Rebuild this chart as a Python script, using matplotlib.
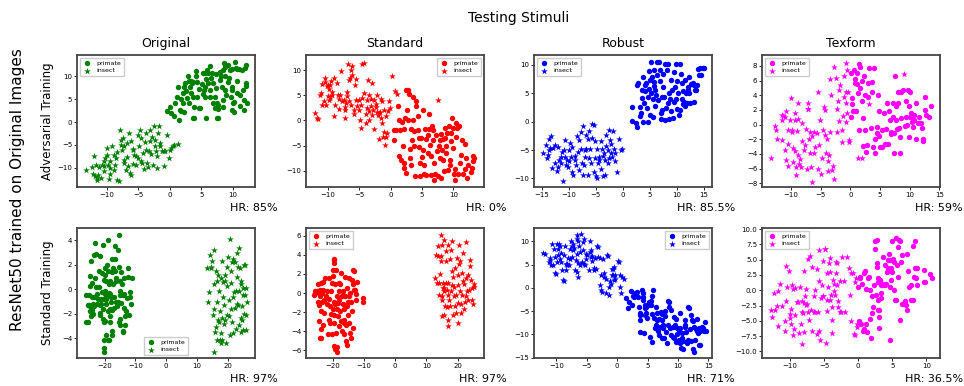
import matplotlib
matplotlib.use("Agg")
import matplotlib.pyplot as plt

# ---------------- data ----------------
columns = ["Original", "Standard", "Robust", "Texform"]
rows = ["Adversarial Training", "Standard Training"]
colors = ["green", "red", "blue", "magenta"]
hr_labels = [["HR: 85%", "HR: 0%", "HR: 85.5%", "HR: 59%"],
             ["HR: 97%", "HR: 97%", "HR: 71%", "HR: 36.5%"]]

# Adversarial training / Original
p1_primate = [(-0.5,2.5),(0.0,3.4),(0.7,1.3),(0.9,4.3),(1.1,5.6),(1.3,7.8),(1.6,2.7),(1.8,5.0),(2.1,4.1),(2.3,7.6),(1.8,2.5),(2.4,8.5),(2.1,6.3),(2.6,6.8),(2.9,10.0),(3.1,8.9),(3.2,7.6),(3.3,6.3),(3.4,9.1),(3.5,8.5),(3.7,5.6),(3.7,8.7),(3.9,3.4),(4.1,10.0),(4.1,11.2),(4.3,8.7),(4.3,5.6),(4.6,7.2),(4.8,3.2),(5.1,8.4),(5.3,10.7),(5.3,6.2),(5.4,7.1),(5.5,7.8),(5.6,10.8),(5.6,5.6),(5.8,9.4),(5.9,11.4),(6.0,10.7),(6.1,8.5),(6.3,7.1),(6.4,12.3),(6.4,5.6),(6.5,9.6),(6.7,10.7),(6.8,8.5),(6.9,4.1),(7.1,5.6),(7.2,3.1),(7.3,7.4),(7.4,10.5),(7.5,4.1),(7.6,2.8),(7.6,0.9),(7.7,3.8),(7.9,9.2),(8.0,11.0),(8.1,10.0),(8.3,7.6),(8.4,4.9),(8.5,3.4),(8.6,12.9),(8.7,7.1),(8.8,10.1),(8.8,12.1),(8.9,6.0),(9.2,12.5),(9.3,8.7),(9.4,9.6),(9.6,11.4),(9.7,5.6),(9.8,7.1),(9.8,2.7),(9.9,7.8),(10.0,4.1),(10.1,2.3),(10.2,4.5),(10.4,13.2),(10.5,11.8),(10.6,8.9),(10.7,6.3),(10.9,11.6),(11.1,3.6),(11.2,6.0),(11.4,11.4),(11.6,7.1),(11.7,4.9),(11.8,2.7),(12.0,7.9),(12.1,12.5),(12.1,8.5),(12.2,4.3),(3.6,0.9),(3.8,0.8),(5.8,0.9),(4.6,3.2),(2.2,2.3),(0.2,2.0),(1.4,0.5),(7.5,1.0),(3.0,4.3),(2.7,5.2),(8.5,11.4),(9.9,11.7),(10.6,11.6),(11.9,11.8)]
p1_insect = [(-13.2,-10.4),(-12.4,-9.9),(-12.1,-11.3),(-12.0,-7.5),(-11.9,-11.9),(-11.7,-9.3),(-11.6,-12.2),(-11.5,-12.6),(-11.4,-11.5),(-11.2,-9.8),(-10.9,-12.2),(-10.7,-9.3),(-10.5,-8.6),(-10.4,-9.7),(-10.2,-7.9),(-10.0,-5.7),(-9.9,-7.3),(-9.8,-9.3),(-9.6,-12.4),(-9.5,-10.0),(-9.4,-8.6),(-9.1,-5.3),(-8.9,-7.1),(-8.7,-9.3),(-8.6,-7.9),(-8.4,-6.6),(-8.3,-12.7),(-8.1,-12.9),(-7.9,-1.7),(-7.8,-3.9),(-7.7,-4.9),(-7.5,-6.2),(-7.4,-3.5),(-7.3,-8.2),(-7.2,-8.9),(-7.0,-10.4),(-6.8,-4.6),(-6.7,-7.6),(-6.6,-9.5),(-6.5,-2.4),(-6.3,-11.1),(-6.2,-4.2),(-6.1,-11.5),(-5.9,-6.0),(-5.8,-5.9),(-5.7,-7.3),(-5.4,-9.3),(-5.3,-7.5),(-5.1,-2.8),(-4.9,-5.3),(-4.7,-1.7),(-4.6,-3.5),(-4.5,-8.6),(-4.4,-8.9),(-4.2,-6.8),(-4.1,-10.2),(-3.9,-4.4),(-3.8,-2.4),(-3.7,-6.0),(-3.6,-8.9),(-3.5,-9.8),(-3.3,-6.4),(-3.2,-4.2),(-3.1,-1.7),(-3.0,-6.9),(-2.8,-3.3),(-2.6,-9.3),(-2.5,-0.8),(-2.4,-5.3),(-2.3,-3.9),(-2.2,-6.4),(-2.1,-7.5),(-2.0,-10.0),(-1.9,-2.3),(-1.7,-0.9),(-1.6,-5.3),(-1.5,-4.6),(-1.2,-6.4),(-0.9,-6.4),(-0.7,-6.4),(-0.4,-2.8),(-0.2,-7.9),(0.0,-6.0),(0.2,-5.7),(0.5,-5.3),(0.7,-4.9),(1.3,-4.8),(-7.2,-5.2),(-5.9,-9.1),(-5.1,-7.9),(-8.8,-10.5),(-10.4,-10.8),(-9.5,-11.3),(-0.9,-9.7)]

# Adversarial training / Standard
p2_insect = [(-12.1,1.4),(-11.8,0.5),(-11.6,0.3),(-11.2,5.1),(-11.1,5.5),(-11.0,7.2),(-10.9,3.1),(-10.7,3.8),(-10.5,7.7),(-10.4,8.4),(-10.3,3.1),(-10.1,6.8),(-10.0,7.0),(-10.0,4.9),(-9.9,4.1),(-9.8,6.2),(-9.7,7.0),(-9.6,4.4),(-9.5,7.9),(-9.4,5.1),(-9.3,5.7),(-9.1,0.8),(-9.0,8.5),(-8.8,3.1),(-8.6,7.4),(-8.4,5.1),(-8.3,2.2),(-8.2,4.2),(-8.0,5.1),(-7.9,9.8),(-7.7,3.9),(-7.5,4.1),(-7.3,0.5),(-7.3,2.6),(-7.2,2.0),(-7.1,3.4),(-6.9,5.7),(-6.9,4.9),(-6.8,11.3),(-6.7,8.0),(-6.6,3.8),(-6.5,8.4),(-6.4,10.0),(-6.3,3.1),(-6.2,10.8),(-6.1,9.1),(-5.9,1.3),(-5.9,2.1),(-5.7,7.0),(-5.6,8.2),(-5.5,4.1),(-5.4,2.8),(-5.1,2.1),(-5.0,4.1),(-4.9,0.1),(-4.8,3.1),(-4.7,-1.5),(-4.6,11.3),(-4.5,4.4),(-4.3,11.4),(-4.2,5.5),(-4.0,1.3),(-3.9,-0.4),(-3.8,4.1),(-3.7,2.4),(-3.6,8.0),(-3.5,1.9),(-3.4,0.1),(-3.4,5.1),(-3.2,4.2),(-3.1,2.8),(-3.0,1.1),(-2.9,7.4),(-2.8,2.1),(-2.7,4.1),(-2.6,-1.7),(-2.4,3.3),(-2.3,2.6),(-2.2,5.1),(-2.1,1.6),(-2.0,1.1),(-1.9,1.4),(-1.8,-3.7),(-1.7,1.6),(-1.6,4.2),(-1.5,0.5),(-1.4,-0.4),(-1.3,3.8),(-1.2,-3.3),(-1.1,2.1),(-1.0,-2.2),(-0.9,-4.8),(-0.7,0.8),(-0.7,-3.2),(-0.5,-2.4),(-0.4,1.8),(-0.2,3.9),(-0.1,2.4),(0.2,8.8),(0.7,5.9),(1.0,5.3),(7.5,4.1)]
p2_primate = [(0.5,-1.8),(0.6,-3.8),(0.9,-1.8),(1.2,2.9),(1.3,0.1),(1.4,-7.0),(1.5,-1.8),(1.7,-7.8),(1.8,-0.2),(1.9,-5.1),(2.1,-9.4),(2.1,-8.4),(2.2,-1.7),(2.3,0.5),(2.4,6.1),(2.4,-10.4),(2.6,2.1),(2.8,6.1),(2.8,0.1),(3.0,5.3),(3.1,-5.7),(3.1,-7.4),(3.2,-1.7),(3.3,-8.8),(3.4,-3.8),(3.5,0.0),(3.6,4.6),(3.7,-2.0),(3.8,-5.1),(3.9,-11.1),(4.0,3.8),(4.1,2.8),(4.3,0.8),(4.4,-1.8),(4.5,-3.5),(4.6,-5.3),(4.7,-8.4),(4.7,-11.1),(4.9,-3.5),(5.0,-7.2),(5.1,2.0),(5.2,-5.9),(5.3,-8.9),(5.4,-10.7),(5.5,-1.7),(5.6,-3.7),(5.7,-10.9),(5.9,-6.4),(6.0,-2.8),(6.1,1.3),(6.2,-1.7),(6.3,-4.8),(6.4,-7.1),(6.5,-10.9),(6.6,-1.1),(6.7,-3.8),(6.8,-1.8),(6.9,-8.4),(7.0,-11.8),(7.1,-10.7),(7.2,-2.8),(7.4,-6.1),(7.6,-11.1),(7.7,-5.0),(7.8,-3.8),(7.9,-7.4),(8.0,-2.7),(8.1,-11.4),(8.2,-5.9),(8.3,-3.7),(8.4,-7.8),(8.5,-10.1),(8.6,-3.5),(8.7,-1.5),(8.8,-5.1),(8.9,-6.4),(9.0,-2.5),(9.1,-9.9),(9.3,-1.1),(9.4,-8.8),(9.5,-7.8),(9.6,-4.1),(9.7,-2.5),(9.8,0.5),(9.9,-5.5),(10.0,-1.5),(10.1,-10.7),(10.2,-11.8),(10.3,-9.7),(10.4,-0.4),(10.5,-3.3),(10.6,-1.5),(10.7,-10.7),(10.9,-1.1),(11.0,-8.4),(11.3,-6.8),(11.4,-3.8),(11.5,-10.7),(11.8,-9.7),(11.9,-4.6),(12.1,-7.4),(12.2,-11.4),(12.4,-8.8),(12.8,-10.3),(13.0,-9.4),(13.1,-7.0),(13.2,-8.1),(13.3,-7.4)]

# Adversarial training / Robust
p3_primate = [(1.7,0.1),(1.8,2.5),(2.5,-0.3),(2.7,-1.0),(2.7,6.5),(2.8,6.7),(3.1,2.6),(3.2,1.0),(3.3,1.5),(3.5,4.1),(3.6,5.6),(3.7,0.0),(3.8,7.9),(4.0,3.2),(4.1,6.4),(4.2,5.3),(4.3,6.7),(4.4,2.3),(4.6,4.4),(4.7,-0.1),(4.8,8.9),(4.9,5.8),(5.1,1.2),(5.1,7.3),(5.2,5.1),(5.3,10.5),(5.4,7.9),(5.6,0.8),(5.6,3.9),(5.7,7.0),(5.7,9.1),(5.8,6.3),(5.9,2.7),(6.0,5.6),(6.2,4.7),(6.3,10.4),(6.4,8.2),(6.5,3.8),(6.7,10.4),(6.8,9.1),(6.9,7.2),(7.0,1.5),(7.1,0.5),(7.2,4.4),(7.3,2.0),(7.4,6.1),(7.5,8.4),(7.7,4.4),(7.8,0.3),(7.9,10.2),(8.0,2.3),(8.1,9.1),(8.3,10.2),(8.4,3.2),(8.5,0.4),(8.6,5.0),(8.8,3.9),(8.9,7.3),(9.0,1.8),(9.1,5.6),(9.3,0.6),(9.4,8.8),(9.5,3.5),(9.6,6.1),(9.8,10.1),(9.9,3.9),(10.0,7.2),(10.1,2.2),(10.2,5.0),(10.4,1.2),(10.5,10.1),(10.6,2.0),(10.7,8.4),(10.9,3.9),(11.0,6.7),(11.1,3.1),(11.2,5.3),(11.4,3.5),(11.5,2.7),(11.6,7.3),(11.7,5.0),(11.9,3.2),(12.0,5.6),(12.1,6.1),(12.2,7.8),(12.3,5.0),(12.5,3.2),(12.7,6.6),(12.8,6.6),(13.0,6.7),(13.1,6.4),(13.2,3.5),(13.3,5.6),(13.6,5.6),(13.7,6.4),(14.0,9.2),(14.1,8.2),(14.2,9.4),(14.4,8.2),(14.8,9.4),(15.1,9.5)]
p3_insect = [(-14.8,-5.6),(-14.2,-4.1),(-14.0,-6.4),(-13.8,-5.8),(-13.7,-5.0),(-13.6,-3.1),(-13.4,-4.7),(-13.2,-2.6),(-13.0,-8.2),(-12.8,-4.7),(-12.6,-7.3),(-12.5,-4.1),(-12.2,-8.6),(-12.0,-7.9),(-11.9,-4.4),(-11.7,-6.7),(-11.5,-6.3),(-11.4,-7.3),(-11.2,-5.3),(-11.1,-10.4),(-10.9,-5.0),(-10.7,-6.3),(-10.6,-3.2),(-10.5,-7.6),(-10.3,-6.8),(-10.1,-8.0),(-10.0,-7.0),(-9.9,-5.0),(-9.7,-3.8),(-9.5,-6.3),(-9.4,-8.8),(-9.3,-4.4),(-9.1,-9.4),(-8.9,-6.1),(-8.8,-6.7),(-8.6,-7.6),(-8.5,-2.5),(-8.3,-5.3),(-8.1,-3.3),(-8.0,-8.5),(-7.8,-1.9),(-7.7,-4.9),(-7.5,-7.3),(-7.4,-0.8),(-7.3,-9.4),(-7.2,-7.6),(-7.0,-5.0),(-6.9,-6.3),(-6.8,-2.3),(-6.7,-4.9),(-6.5,-9.4),(-6.4,-3.1),(-6.3,-6.4),(-6.2,-1.6),(-6.0,-4.9),(-5.8,-7.2),(-5.7,-2.9),(-5.6,-0.4),(-5.4,-8.8),(-5.2,-6.4),(-5.1,-3.5),(-4.9,-9.5),(-4.8,-9.9),(-4.7,-4.9),(-4.6,-7.3),(-4.4,-6.3),(-4.3,-6.7),(-4.1,-3.5),(-4.0,-8.4),(-3.8,-4.9),(-3.7,-6.1),(-3.6,-9.5),(-3.5,-5.6),(-3.3,-6.7),(-3.2,-9.4),(-3.1,-2.3),(-3.0,-4.3),(-2.8,-7.3),(-2.7,-5.0),(-2.6,-1.5),(-2.5,-6.4),(-2.3,-3.2),(-2.2,-3.9),(-2.1,-5.6),(-2.0,-6.3),(-1.8,-1.6),(-1.7,-4.9),(-1.5,-7.0),(-1.4,-5.6),(-1.0,-8.8),(-0.7,-3.1),(-0.4,-5.0),(-0.2,-4.9),(-5.4,-0.6)]

# Adversarial training / Texform
p4_insect = [(-13.4,-4.6),(-12.7,-0.2),(-12.5,-0.7),(-12.3,-1.9),(-11.6,0.6),(-11.5,1.3),(-11.5,-2.1),(-11.4,1.2),(-11.1,1.0),(-11.0,-3.4),(-10.9,-4.8),(-10.8,1.8),(-10.6,-0.7),(-10.6,-5.7),(-10.5,-2.7),(-10.2,0.6),(-10.0,3.7),(-9.9,-1.0),(-9.8,-0.7),(-9.6,-5.1),(-9.6,-3.2),(-9.4,1.6),(-9.3,0.6),(-9.3,-3.6),(-9.2,-5.8),(-9.2,-6.9),(-9.0,-0.8),(-8.9,3.0),(-8.8,0.8),(-8.8,-4.2),(-8.6,-5.3),(-8.5,-4.7),(-8.3,-5.8),(-8.2,0.2),(-8.1,-2.2),(-7.9,-3.4),(-7.6,-2.8),(-7.5,-0.6),(-7.3,-6.0),(-7.2,2.1),(-7.1,2.9),(-7.1,2.2),(-6.9,-2.0),(-6.8,-1.0),(-6.8,-3.8),(-6.6,-5.8),(-6.5,-1.6),(-6.4,-7.8),(-6.2,-3.9),(-6.1,-1.0),(-5.9,-3.0),(-5.6,-1.1),(-5.5,-6.0),(-5.4,4.4),(-5.3,-2.8),(-5.1,0.6),(-4.9,-6.7),(-4.8,-4.5),(-4.7,-0.7),(-4.5,2.4),(-4.3,2.0),(-4.2,-1.4),(-4.1,-3.9),(-4.0,-1.9),(-3.8,-6.3),(-3.7,-5.0),(-3.6,-4.2),(-3.5,6.2),(-3.4,-1.0),(-3.2,4.1),(-3.1,-6.2),(-3.0,-5.7),(-2.8,-7.4),(-2.7,7.9),(-2.4,6.3),(-2.3,-1.0),(-2.3,2.2),(-2.1,3.2),(-2.0,4.7),(-1.9,0.5),(-1.7,5.4),(-1.5,-0.7),(-1.4,-2.3),(-1.2,1.2),(-1.1,6.7),(-1.0,3.8),(-0.8,4.4),(-0.8,2.9),(-0.7,8.4),(-0.7,0.4),(-0.6,1.6),(-0.5,7.4),(-0.4,4.5),(-0.3,-2.1),(-0.2,-2.3),(1.2,-4.6),(2.0,-4.6),(3.2,2.8),(9.0,6.9)]
p4_primate = [(0.1,7.1),(0.1,1.1),(0.2,3.6),(0.3,2.8),(0.4,1.8),(0.6,7.5),(0.7,6.2),(0.8,5.7),(1.0,1.8),(1.1,7.0),(1.1,5.5),(1.3,4.3),(1.4,-0.7),(1.5,8.3),(1.6,5.0),(1.7,7.9),(1.9,5.9),(1.9,3.2),(2.1,0.9),(2.2,-2.9),(2.3,6.6),(2.4,4.1),(2.5,-0.7),(2.6,-3.7),(2.8,-2.8),(2.9,5.7),(3.0,3.8),(3.1,7.7),(3.4,-0.5),(3.6,4.5),(3.7,5.8),(3.8,-3.1),(3.9,7.7),(4.1,-2.0),(4.2,-3.9),(4.4,-0.3),(4.5,-1.2),(4.7,4.1),(4.8,1.8),(4.9,-1.6),(5.0,-3.0),(5.3,-3.1),(5.4,-0.7),(5.7,1.6),(5.9,-2.6),(6.0,-0.6),(6.2,2.9),(6.3,-2.6),(6.5,1.8),(6.6,0.6),(6.8,-1.3),(6.9,-1.0),(7.1,1.1),(7.2,2.9),(7.3,-1.2),(7.4,-3.9),(7.5,6.6),(7.6,0.6),(7.7,2.5),(7.9,-0.6),(8.0,4.4),(8.1,3.0),(8.2,-0.4),(8.3,-1.7),(8.4,-3.9),(8.5,0.9),(8.6,4.5),(8.8,4.7),(9.2,-0.2),(9.3,1.1),(9.4,3.2),(9.6,0.0),(9.7,4.7),(9.8,2.5),(9.9,-1.7),(10.0,4.5),(10.1,1.1),(10.2,1.6),(10.3,0.3),(10.5,0.7),(10.6,-0.3),(10.7,0.6),(10.8,1.3),(11.0,2.9),(11.1,-2.0),(11.4,0.2),(11.6,1.1),(11.9,0.2),(12.0,-0.4),(12.3,-2.0),(12.3,-2.2),(12.5,3.8),(12.6,2.0),(12.7,1.3),(13.3,1.1),(13.6,2.6)]

# Standard training / Original
p5_primate = [(-26.0,-2.7),(-25.5,-2.7),(-26.0,-0.5),(-25.5,-1.3),(-25.2,-0.5),(-25.2,-1.3),(-24.9,-1.8),(-24.9,-1.4),(-24.7,0.3),(-24.7,1.1),(-24.5,2.3),(-24.5,-2.2),(-24.2,-1.7),(-24.1,-0.6),(-24.1,0.5),(-23.8,-1.2),(-23.8,-2.0),(-23.6,-0.6),(-23.4,-1.4),(-23.4,2.8),(-23.0,0.9),(-23.0,3.8),(-22.7,0.2),(-22.7,2.9),(-22.5,-1.2),(-22.5,-0.4),(-22.3,-0.8),(-22.0,0.2),(-22.0,1.5),(-21.6,-2.1),(-21.6,-1.3),(-21.4,2.7),(-21.4,-1.9),(-21.2,-1.2),(-21.2,-0.8),(-20.9,1.3),(-20.9,-0.2),(-20.7,3.6),(-20.5,-1.6),(-20.5,-2.4),(-20.3,-0.8),(-20.3,0.8),(-20.1,-2.7),(-20.0,-2.6),(-19.9,1.7),(-19.8,-0.1),(-19.8,1.2),(-19.8,-0.4),(-19.6,-0.8),(-19.5,-3.7),(-19.5,0.7),(-19.5,-1.2),(-19.2,2.0),(-19.2,-0.5),(-19.0,4.0),(-19.0,-1.8),(-18.8,1.5),(-18.7,0.4),(-18.7,-0.3),(-18.4,-1.6),(-18.4,-2.7),(-18.2,0.7),(-18.2,-2.2),(-18.2,-0.4),(-17.9,-0.6),(-17.9,-1.0),(-17.7,-1.7),(-17.7,2.5),(-17.5,-3.4),(-17.5,1.4),(-17.3,1.7),(-17.3,0.4),(-17.1,-0.6),(-17.1,-1.5),(-16.8,3.5),(-16.6,1.5),(-16.5,2.5),(-16.4,0.7),(-16.2,-1.0),(-16.2,0.9),(-16.0,-1.4),(-15.8,-1.0),(-15.8,3.2),(-15.4,4.4),(-15.4,-2.7),(-15.3,1.8),(-15.1,-0.1),(-15.1,-0.5),(-14.9,0.7),(-14.9,-2.4),(-14.7,1.4),(-14.7,-1.1),(-14.3,0.4),(-14.0,-0.5),(-14.0,-3.4),(-13.8,-0.4),(-13.6,0.9),(-13.3,-2.2),(-13.3,-2.9),(-12.9,-1.8),(-12.7,-0.7),(-12.5,1.7),(-12.5,1.0),(-12.2,-2.1),(-11.8,-0.2),(-11.6,-0.6),(-11.4,-1.2),(-11.1,0.9),(-20.3,-4.8),(-20.1,-5.1),(-20.1,-4.1),(-19.0,-4.1),(-18.6,-4.1),(-17.6,-3.7),(-14.0,-3.5),(-13.6,-1.5),(-14.9,-2.9)]
p5_insect = [(13.4,1.7),(13.6,-1.0),(13.9,-0.2),(14.2,2.8),(14.5,1.7),(14.7,1.8),(15.0,2.3),(15.3,-2.1),(15.5,3.2),(15.7,0.4),(15.7,-1.6),(15.9,-3.5),(16.1,1.5),(16.3,-3.1),(16.4,-1.0),(16.4,-4.1),(16.6,0.7),(16.8,1.2),(16.8,-2.5),(17.2,-2.7),(17.2,-0.1),(17.5,-1.8),(17.7,-3.6),(17.7,0.9),(18.0,-4.4),(18.2,2.3),(18.3,-2.3),(18.5,-0.6),(18.6,0.6),(18.8,-1.3),(18.8,-2.8),(19.0,1.2),(19.2,0.7),(19.3,-2.5),(19.5,-4.4),(19.7,-2.1),(19.9,0.3),(19.9,1.8),(20.1,2.6),(20.3,-2.2),(20.5,-0.9),(20.8,4.1),(20.8,-3.7),(21.0,-1.6),(21.0,0.5),(21.2,1.5),(21.4,2.2),(21.5,-2.7),(21.6,-0.6),(21.7,2.5),(21.8,-3.6),(22.1,-0.2),(22.3,-1.5),(22.5,2.2),(22.6,-0.1),(22.7,-3.2),(22.9,3.0),(22.9,1.0),(23.2,-1.2),(23.4,-1.3),(23.5,1.8),(23.6,-2.9),(23.7,3.4),(23.8,-0.1),(24.0,1.7),(24.2,-2.3),(24.2,0.4),(24.5,0.7),(24.5,-3.5),(24.7,-2.5),(24.8,-1.4),(24.9,-0.5),(25.1,0.1),(25.1,-3.3),(25.3,2.0),(25.3,-2.0),(25.5,-0.5),(25.8,2.0),(25.9,0.1),(26.0,-2.1),(26.0,-3.3),(26.2,-1.0),(15.5,-5.1),(17.5,-4.1),(18.3,-4.1)]

# Standard training / Standard
p6_primate = [(-26.0,-0.2),(-25.7,0.2),(-25.5,0.0),(-25.0,0.2),(-24.7,-0.9),(-24.7,0.9),(-24.5,0.0),(-24.5,-2.9),(-24.3,-1.3),(-24.0,-0.3),(-23.9,0.3),(-23.8,1.0),(-23.8,-4.7),(-23.6,-3.8),(-23.6,-1.9),(-23.4,-0.9),(-23.4,0.0),(-23.2,1.2),(-23.2,0.3),(-23.0,-3.3),(-22.9,-0.7),(-22.6,-2.1),(-22.3,1.6),(-22.1,-0.3),(-21.9,0.2),(-21.7,-1.2),(-21.5,-4.3),(-21.3,-2.8),(-21.3,-0.6),(-21.1,1.6),(-20.9,-3.1),(-20.9,-1.4),(-20.6,0.2),(-20.4,-2.2),(-20.2,1.0),(-20.2,-4.3),(-20.0,-1.7),(-20.0,1.8),(-19.8,2.4),(-19.7,3.5),(-19.7,3.1),(-19.6,-0.9),(-19.6,-2.3),(-19.4,3.6),(-19.4,-3.1),(-19.4,-5.5),(-19.1,-1.2),(-19.1,0.9),(-19.1,-5.9),(-18.9,2.4),(-18.9,-4.2),(-18.7,-5.7),(-18.6,-1.7),(-18.6,-0.3),(-18.5,-6.2),(-18.3,-2.4),(-18.3,-1.0),(-18.1,0.2),(-18.1,-3.5),(-17.9,1.0),(-17.9,-0.7),(-17.7,-1.9),(-17.6,0.9),(-17.2,2.1),(-17.2,-2.9),(-17.0,-4.0),(-17.0,-0.3),(-16.8,-1.2),(-16.8,0.2),(-16.6,-0.2),(-16.5,-2.8),(-16.4,-3.1),(-16.2,-4.3),(-16.2,-1.7),(-16.0,1.7),(-16.0,-0.3),(-15.7,-3.3),(-15.7,-5.0),(-15.5,0.5),(-15.4,-1.4),(-15.3,-5.4),(-15.1,-0.9),(-15.1,-2.3),(-14.9,1.6),(-14.9,-0.3),(-14.7,-3.1),(-14.5,-4.2),(-14.3,0.0),(-14.0,-0.9),(-14.0,-4.7),(-13.8,-1.9),(-13.8,1.4),(-13.6,0.9),(-13.6,-3.7),(-13.4,2.4),(-13.3,0.3),(-13.2,2.3),(-12.8,0.3),(-12.6,-0.7),(-12.6,-0.1),(-12.2,1.2),(-10.4,-0.9),(-10.2,-0.5),(-23.9,-4.7)]
p6_insect = [(12.6,1.6),(13.0,4.0),(13.3,1.0),(13.6,4.9),(13.8,3.9),(14.0,1.0),(14.1,-0.2),(14.3,2.0),(14.5,3.4),(14.5,3.9),(14.7,6.1),(14.9,-0.3),(15.1,5.0),(15.1,-0.7),(15.3,1.0),(15.4,0.5),(15.5,-2.3),(15.7,5.5),(15.7,0.2),(16.0,-1.4),(16.2,4.4),(16.2,1.0),(16.4,3.3),(16.5,0.3),(16.6,-1.5),(16.8,-2.8),(16.8,5.0),(17.0,-0.2),(17.0,1.0),(17.2,-0.7),(17.4,-1.4),(17.6,3.6),(17.8,4.5),(17.9,0.2),(18.1,5.4),(18.1,2.3),(18.3,0.8),(18.5,-2.3),(18.6,1.7),(18.7,-0.3),(18.9,0.6),(19.1,2.6),(19.1,-1.4),(19.4,-2.1),(19.6,-0.2),(19.8,3.7),(20.0,0.8),(20.0,-3.1),(20.2,-1.0),(20.2,1.9),(20.4,5.0),(20.4,3.0),(20.6,0.2),(20.7,3.4),(20.9,-2.1),(21.1,-1.2),(21.3,2.1),(21.5,-0.2),(21.7,4.2),(21.8,1.3),(21.9,-1.7),(22.1,0.9),(22.3,-0.9),(22.6,5.3),(22.6,-0.3),(22.8,1.6),(23.0,0.2),(23.2,-0.7),(23.4,1.9),(23.6,0.3),(23.8,3.5),(24.0,2.8),(24.3,1.4),(24.5,-0.7),(24.7,0.5),(24.9,-1.2),(25.1,0.6),(25.3,0.9),(14.9,-2.4),(17.0,-3.5),(15.7,0.5)]

# Standard training / Robust
p7_insect = [(-12.2,7.6),(-11.9,7.4),(-11.3,5.6),(-11.1,6.4),(-11.0,5.9),(-10.9,5.0),(-10.7,9.5),(-10.6,4.9),(-10.4,8.4),(-10.3,3.1),(-10.2,6.6),(-10.1,2.9),(-9.9,5.6),(-9.9,9.5),(-9.8,8.3),(-9.7,7.1),(-9.6,9.5),(-9.5,6.3),(-9.4,9.1),(-9.3,7.6),(-9.2,5.6),(-9.1,3.8),(-8.9,1.6),(-8.8,1.4),(-8.7,7.0),(-8.6,9.1),(-8.5,5.2),(-8.4,3.8),(-8.3,5.2),(-8.2,5.0),(-8.1,6.4),(-7.9,5.0),(-7.8,8.3),(-7.7,6.3),(-7.6,10.0),(-7.5,6.6),(-7.4,9.1),(-7.3,8.1),(-7.2,9.5),(-7.1,8.6),(-6.9,3.8),(-6.8,5.9),(-6.7,3.4),(-6.7,10.6),(-6.6,11.3),(-6.6,7.4),(-6.5,5.4),(-6.4,2.4),(-6.4,10.0),(-6.3,9.1),(-6.2,5.0),(-6.1,7.7),(-5.9,11.6),(-5.8,5.6),(-5.7,8.1),(-5.6,9.9),(-5.5,10.6),(-5.4,5.2),(-5.3,4.9),(-5.2,7.4),(-5.1,6.3),(-4.9,7.0),(-4.7,3.8),(-4.5,7.7),(-4.4,10.0),(-4.3,6.6),(-4.3,8.1),(-4.2,6.9),(-4.1,5.7),(-3.9,3.8),(-3.8,4.3),(-3.7,6.4),(-3.5,4.1),(-3.3,9.1),(-3.2,6.6),(-3.1,8.8),(-2.9,6.4),(-2.8,0.6),(-2.7,-0.5),(-2.6,2.7),(-2.5,-0.9),(-2.4,6.3),(-2.2,2.4),(-2.1,3.1),(-1.9,2.0),(-1.8,-1.2),(-1.7,7.0),(-1.6,6.9),(-1.4,-1.6),(-1.3,0.2),(-1.2,1.4),(-1.1,0.9),(-0.9,2.7),(-0.8,4.1),(-0.7,4.1),(-0.7,2.7),(-0.6,4.5),(-0.5,1.6),(-0.4,2.7),(-0.3,2.0),(0.1,5.7),(0.3,5.6),(0.4,2.7),(0.5,0.2),(0.7,-1.2),(0.8,2.4),(1.1,1.9)]
p7_primate = [(1.5,-2.1),(1.8,-4.4),(1.9,-3.0),(2.3,-0.7),(2.5,-3.7),(2.6,-1.7),(2.7,-1.9),(2.9,-1.2),(3.1,-1.6),(3.2,-0.9),(3.4,-1.9),(3.6,-4.1),(3.7,-5.5),(3.7,-6.9),(3.8,-5.9),(3.8,-9.4),(4.0,-0.5),(4.2,-1.2),(4.3,-2.6),(4.3,-1.9),(4.4,-9.8),(4.5,-3.7),(4.6,-5.9),(4.6,-4.4),(4.7,-4.1),(4.8,-5.5),(4.9,-6.4),(5.1,-3.6),(5.3,-3.0),(5.4,-10.5),(5.5,-3.7),(5.6,-2.9),(5.7,-11.6),(5.7,-1.7),(5.8,-5.7),(5.9,-0.5),(6.1,-6.4),(6.2,-8.7),(6.3,-7.9),(6.4,-4.1),(6.5,-6.9),(6.6,-5.5),(6.7,-9.3),(6.8,-6.6),(6.9,-10.1),(7.1,-8.4),(7.2,-5.1),(7.3,-5.7),(7.4,-10.9),(7.4,-6.9),(7.5,-8.7),(7.6,-8.0),(7.7,-10.9),(7.8,-5.0),(7.9,-6.0),(8.1,-9.4),(8.2,-11.9),(8.3,-8.0),(8.4,-2.9),(8.5,-4.1),(8.6,-3.0),(8.7,-8.7),(8.8,-10.1),(8.9,-4.8),(9.1,-10.5),(9.2,-8.4),(9.3,-6.2),(9.4,-10.9),(9.5,-8.0),(9.6,-11.6),(9.7,-6.6),(9.8,-8.7),(9.9,-10.0),(10.1,-11.2),(10.2,-9.4),(10.3,-8.6),(10.4,-11.9),(10.4,-5.5),(10.5,-12.9),(10.6,-10.9),(10.7,-9.8),(10.8,-13.1),(10.9,-11.4),(11.1,-7.9),(11.2,-6.9),(11.2,-8.4),(11.4,-9.4),(11.5,-11.9),(11.6,-11.2),(11.7,-4.1),(11.8,-4.3),(11.9,-8.9),(12.1,-11.4),(12.2,-5.9),(12.3,-6.9),(12.4,-7.1),(12.5,-13.1),(12.6,-13.9),(12.7,-8.4),(12.8,-11.2),(12.9,-8.9),(13.1,-6.6),(13.2,-9.3),(13.3,-9.8),(13.4,-8.7),(13.5,-12.4),(13.6,-12.3),(13.7,-9.3),(13.8,-9.1),(13.9,-8.4),(14.1,-8.7),(14.3,-9.3),(14.4,-7.4),(14.6,-9.3)]

# Standard training / Texform
p8_insect = [(-12.8,-3.2),(-12.6,-4.4),(-12.3,-0.4),(-12.2,-3.2),(-11.9,-2.5),(-11.8,-5.9),(-11.7,-0.2),(-11.4,1.0),(-11.2,-2.5),(-10.8,-5.1),(-10.7,-6.7),(-10.6,-1.8),(-10.6,4.0),(-10.5,0.6),(-10.1,3.1),(-10.0,-3.9),(-10.0,-4.6),(-9.9,-3.1),(-9.8,-5.6),(-9.7,0.8),(-9.6,-7.3),(-9.5,0.2),(-9.4,-6.3),(-9.3,-4.0),(-9.2,0.3),(-9.0,-2.0),(-8.8,-2.0),(-8.7,-7.0),(-8.5,0.6),(-8.4,-5.6),(-8.3,-1.7),(-8.3,-3.5),(-8.2,-8.8),(-8.1,-3.7),(-8.0,3.2),(-8.0,-6.8),(-7.9,-2.1),(-7.8,-0.9),(-7.7,0.2),(-7.6,-2.4),(-7.5,-2.3),(-7.4,5.2),(-7.3,-3.5),(-7.2,-4.8),(-7.1,5.6),(-6.9,-3.2),(-6.8,-6.7),(-6.7,3.8),(-6.5,-0.9),(-6.5,-3.6),(-6.4,0.1),(-6.3,-3.5),(-6.1,3.5),(-6.0,-7.2),(-5.9,-3.6),(-5.8,6.6),(-5.7,1.5),(-5.7,-6.6),(-5.6,-8.1),(-5.4,-1.3),(-5.3,0.9),(-5.2,-0.9),(-5.1,4.8),(-5.1,-1.0),(-4.9,6.8),(-4.8,6.8),(-4.7,-8.6),(-4.6,-1.6),(-4.6,2.9),(-4.5,-3.4),(-4.4,0.6),(-4.3,4.4),(-4.2,3.0),(-4.1,-1.6),(-4.1,5.3),(-4.0,-0.8),(-3.9,-2.8),(-3.8,-4.8),(-3.8,-7.0),(-3.7,1.7),(-3.6,1.0),(-3.5,-0.2),(-3.4,-0.8),(-3.3,2.9),(-3.2,4.6),(-3.1,0.8),(-3.1,4.4),(-2.9,-1.8),(-2.9,-2.8),(-2.7,1.5),(-2.6,-3.6),(-2.5,-3.5),(-2.3,5.5),(-2.1,1.5),(-1.9,-3.5),(-1.6,5.5),(-1.3,3.7),(-1.2,-0.8),(-1.1,2.8),(-1.0,-5.1),(-0.8,2.8),(-0.6,-7.2),(-0.5,1.4),(-0.4,-7.3),(-0.3,2.0),(-0.2,-5.6),(-0.1,-6.1)]
p8_primate = [(0.0,0.6),(0.1,-5.0),(0.2,2.1),(0.3,2.0),(0.4,-5.5),(0.6,1.0),(0.7,-6.6),(0.8,-6.4),(0.9,2.8),(1.0,3.1),(1.1,-5.6),(1.2,0.2),(1.3,-6.8),(1.5,2.0),(1.6,2.2),(1.7,-4.7),(1.8,0.1),(1.9,-7.8),(2.0,-3.7),(2.1,-0.9),(2.2,-2.7),(2.3,0.8),(2.4,8.0),(2.5,6.8),(2.6,-0.7),(2.7,4.4),(2.8,3.8),(2.8,8.2),(2.9,2.0),(2.9,1.4),(2.9,-3.2),(2.9,-1.6),(3.0,-3.2),(3.0,-4.4),(3.1,-6.2),(3.2,1.7),(3.3,0.9),(3.3,-0.5),(3.4,-1.2),(3.5,0.9),(3.6,1.0),(3.7,5.5),(3.9,4.1),(4.0,0.9),(4.1,1.0),(4.3,3.0),(4.4,3.6),(4.4,4.9),(4.5,5.9),(4.6,-8.1),(4.7,0.6),(4.7,4.9),(4.8,1.7),(4.8,3.7),(4.9,3.0),(5.0,8.0),(5.1,5.2),(5.2,0.1),(5.3,4.7),(5.4,-1.6),(5.5,-1.6),(5.6,8.5),(5.7,4.1),(5.8,7.1),(5.9,2.1),(6.0,8.2),(6.1,8.0),(6.2,-4.8),(6.3,4.7),(6.4,5.7),(6.5,-2.3),(6.7,-2.1),(6.9,-1.7),(7.0,-2.4),(7.1,-3.2),(7.2,6.0),(7.3,3.1),(7.5,0.6),(7.7,0.9),(7.8,-1.6),(8.0,-1.6),(8.1,7.3),(8.2,2.1),(8.3,8.0),(8.4,3.6),(8.5,2.0),(8.5,3.6),(8.6,3.6),(8.7,0.8),(9.6,3.4),(9.7,1.3),(9.8,1.3),(10.6,2.6),(10.9,2.0)]

panels = [
    [(p1_primate, p1_insect), (p2_primate, p2_insect), (p3_primate, p3_insect), (p4_primate, p4_insect)],
    [(p5_primate, p5_insect), (p6_primate, p6_insect), (p7_primate, p7_insect), (p8_primate, p8_insect)],
]

# ---------------- layout ----------------
W, H = 964, 386
fig = plt.figure(figsize=(W / 100, H / 100), dpi=100)

lefts_px = [77, 306, 534, 762]
width_px = 178
row_top_px = [55, 228]
row_h_px = [132, 130]

xlims = [[(-14.7, 13.5), (-13.5, 14.9), (-16.4, 16.5), (-14.9, 15.1)],
         [(-29.0, 28.9), (-28.5, 28.4), (-13.7, 15.6), (-14.1, 12.0)]]
ylims = [[(-14.2, 14.7), (-13.2, 13.0), (-11.5, 11.7), (-8.5, 9.5)],
         [(-5.6, 5.0), (-6.8, 6.8), (-15.1, 12.9), (-11.1, 10.2)]]
legend_locs = [["upper left", "upper right", "upper left", "upper left"],
               ["lower center", "upper left", "upper right", "upper left"]]

for r in range(2):
    for c in range(4):
        l = lefts_px[c] / W
        b = 1 - (row_top_px[r] + row_h_px[r]) / H
        ax = fig.add_axes([l, b, width_px / W, row_h_px[r] / H])
        prim, ins = panels[r][c]
        col = colors[c]
        ax.scatter([p[0] for p in prim], [p[1] for p in prim], s=15, marker="o",
                   color=col, linewidths=0, label="primate")
        ax.scatter([p[0] for p in ins], [p[1] for p in ins], s=26, marker="*",
                   color=col, linewidths=0, label="insect")
        ax.set_xlim(*xlims[r][c])
        ax.set_ylim(*ylims[r][c])
        ax.tick_params(labelsize=5, length=2, width=0.6, pad=1.5)
        for sp in ax.spines.values():
            sp.set_linewidth(1.3)
            sp.set_color("#444444")
        ax.legend(loc=legend_locs[r][c], fontsize=4.5, markerscale=1,
                  handlelength=1.4, handletextpad=0.8, borderpad=0.4,
                  labelspacing=0.3, framealpha=1, edgecolor="#cccccc",
                  fancybox=False)
        if r == 0:
            ax.set_title(columns[c], fontsize=9, pad=6)
        fig.text((lefts_px[c] + width_px + 23) / W,
                 1 - (row_top_px[r] + row_h_px[r] + 21) / H,
                 hr_labels[r][c], ha="right", va="center", fontsize=8)

fig.text(519 / W, 1 - 18 / H, "Testing Stimuli", ha="center", va="center", fontsize=10)
fig.text(48 / W, 1 - (55 + 66) / H, rows[0], rotation=90, ha="center", va="center", fontsize=8.5)
fig.text(48 / W, 1 - (228 + 65) / H, rows[1], rotation=90, ha="center", va="center", fontsize=8.5)
fig.text(18 / W, 1 - 190 / H, "ResNet50 trained on Original Images", rotation=90,
         ha="center", va="center", fontsize=11)

fig.savefig("out.png", dpi=100)
